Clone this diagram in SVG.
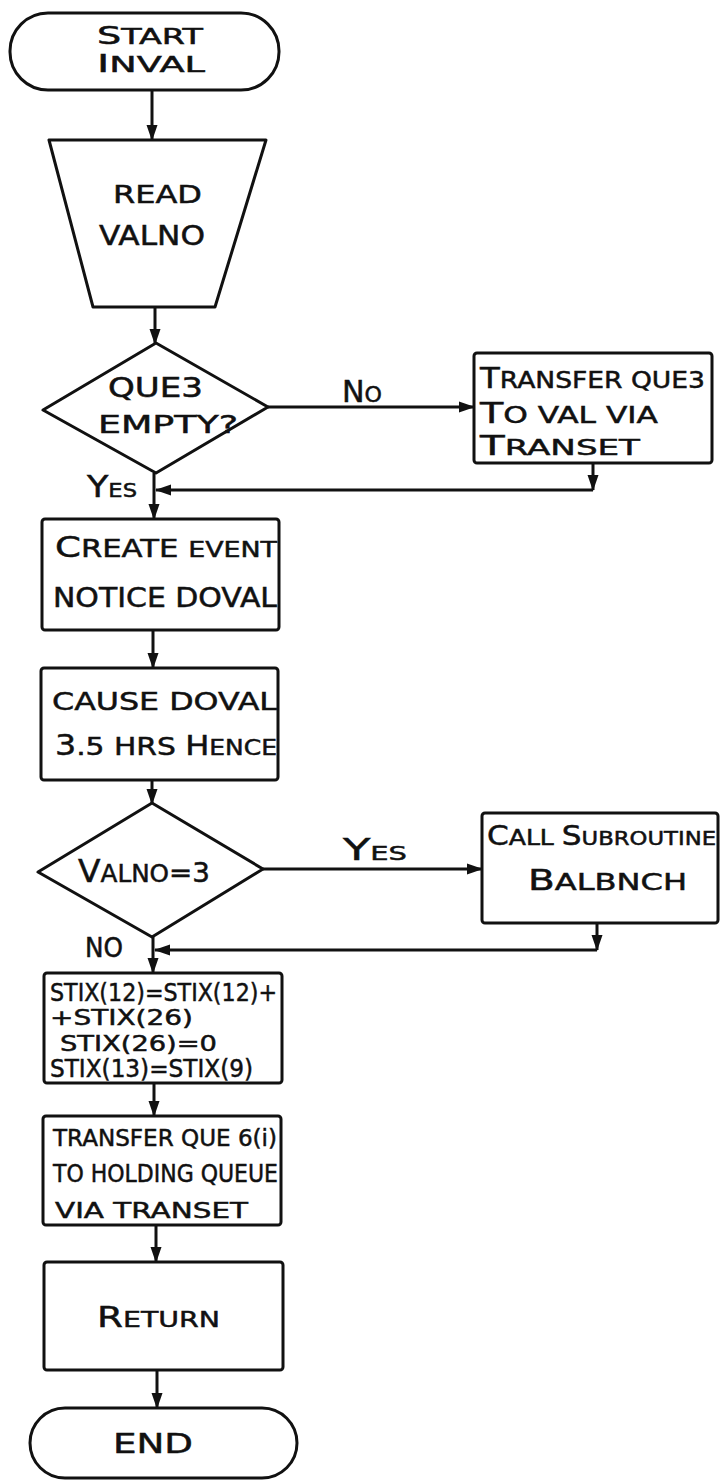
<svg xmlns="http://www.w3.org/2000/svg" width="724" height="1481" viewBox="0 0 724 1481">
  <style>
    .shape { fill: #ffffff; stroke: #111111; stroke-width: 3; stroke-linejoin: round; }
    .wire { fill: none; stroke: #111111; stroke-width: 3; }
    .lbl { font-family: "DejaVu Sans", "Liberation Sans", sans-serif; fill: #111111; stroke: #111111; stroke-width: 0.5; }
  </style>
  <defs>
    <marker id="ah" viewBox="0 0 16 12" refX="15" refY="6" markerWidth="16" markerHeight="12" markerUnits="userSpaceOnUse" orient="auto">
      <path d="M0,0.5 L16,6 L0,11.5 Z" fill="#111111"/>
    </marker>
  </defs>
  <rect width="724" height="1481" fill="#ffffff"/>

  <!-- flow connectors -->
  <g id="connectors">
    <path class="wire" d="M152,90 V140" marker-end="url(#ah)"/>
    <path class="wire" d="M155,307 V344" marker-end="url(#ah)"/>
    <path class="wire" d="M268,407 H474" marker-end="url(#ah)"/>
    <path class="wire" d="M593,463 V490" marker-end="url(#ah)"/>
    <path class="wire" d="M593,490 H156" marker-end="url(#ah)"/>
    <path class="wire" d="M154,473 V519" marker-end="url(#ah)"/>
    <path class="wire" d="M153,630 V668" marker-end="url(#ah)"/>
    <path class="wire" d="M152,780 V804" marker-end="url(#ah)"/>
    <path class="wire" d="M263,869 H482" marker-end="url(#ah)"/>
    <path class="wire" d="M597,923 V950" marker-end="url(#ah)"/>
    <path class="wire" d="M597,950 H155" marker-end="url(#ah)"/>
    <path class="wire" d="M153,937 V973" marker-end="url(#ah)"/>
    <path class="wire" d="M154,1083 V1116" marker-end="url(#ah)"/>
    <path class="wire" d="M156,1225 V1262" marker-end="url(#ah)"/>
    <path class="wire" d="M157,1370 V1408" marker-end="url(#ah)"/>
    <text class="lbl" x="342" y="402" textLength="40" lengthAdjust="spacingAndGlyphs"><tspan font-size="30">N</tspan><tspan font-size="22">O</tspan></text>
    <text class="lbl" x="87" y="497" textLength="50" lengthAdjust="spacingAndGlyphs"><tspan font-size="31">Y</tspan><tspan font-size="20">ES</tspan></text>
    <text class="lbl" x="343" y="860" textLength="64" lengthAdjust="spacingAndGlyphs"><tspan font-size="31">Y</tspan><tspan font-size="20">ES</tspan></text>
    <text class="lbl" x="85" y="957" font-size="26" textLength="38" lengthAdjust="spacingAndGlyphs">NO</text>
  </g>

  <g id="start">
    <rect class="shape" x="10" y="13" width="269" height="77" rx="38" ry="38"/>
    <text class="lbl" x="97" y="44" textLength="106" lengthAdjust="spacingAndGlyphs"><tspan font-size="24">S</tspan><tspan font-size="21">TART</tspan></text>
    <text class="lbl" x="97" y="72" textLength="108" lengthAdjust="spacingAndGlyphs"><tspan font-size="25">I</tspan><tspan font-size="22">NVAL</tspan></text>
  </g>

  <g id="read-valno">
    <path class="shape" d="M49,140 L266,140 L215,307 L93,307 Z"/>
    <text class="lbl" x="113" y="203" font-size="25" textLength="89" lengthAdjust="spacingAndGlyphs">READ</text>
    <text class="lbl" x="99" y="245" font-size="27" textLength="106" lengthAdjust="spacingAndGlyphs">VALNO</text>
  </g>

  <g id="que3-empty">
    <path class="shape" d="M156,343 L268,407 L156,473 L43,410 Z"/>
    <text class="lbl" x="108" y="397" font-size="26" textLength="95" lengthAdjust="spacingAndGlyphs">QUE3</text>
    <text class="lbl" x="98" y="433" font-size="25" textLength="140" lengthAdjust="spacingAndGlyphs">EMPTY?</text>
  </g>

  <g id="transfer-que3">
    <rect class="shape" x="474" y="353" width="238" height="110" rx="3"/>
    <text class="lbl" x="480" y="388" textLength="225" lengthAdjust="spacingAndGlyphs"><tspan font-size="28">T</tspan><tspan font-size="23">RANSFER QUE3</tspan></text>
    <text class="lbl" x="480" y="423" textLength="178" lengthAdjust="spacingAndGlyphs"><tspan font-size="28">T</tspan><tspan font-size="23">O VAL VIA</tspan></text>
    <text class="lbl" x="480" y="455" textLength="160" lengthAdjust="spacingAndGlyphs"><tspan font-size="26">T</tspan><tspan font-size="22">RANSET</tspan></text>
  </g>

  <g id="create-event">
    <rect class="shape" x="42" y="519" width="237" height="111" rx="3"/>
    <text class="lbl" x="55" y="557" textLength="222" lengthAdjust="spacingAndGlyphs"><tspan font-size="29">C</tspan><tspan font-size="24">REATE </tspan><tspan font-size="21">EVENT</tspan></text>
    <text class="lbl" x="53" y="607" font-size="26" textLength="224" lengthAdjust="spacingAndGlyphs">NOTICE DOVAL</text>
  </g>

  <g id="cause-doval">
    <rect class="shape" x="41" y="668" width="237" height="112" rx="3"/>
    <text class="lbl" x="52" y="710" font-size="25" textLength="225" lengthAdjust="spacingAndGlyphs">CAUSE DOVAL</text>
    <text class="lbl" x="55" y="755" textLength="222" lengthAdjust="spacingAndGlyphs"><tspan font-size="28">3</tspan><tspan font-size="25">.5 HRS </tspan><tspan font-size="27">H</tspan><tspan font-size="21">ENCE</tspan></text>
  </g>

  <g id="valno-3">
    <path class="shape" d="M152,803 L263,869 L152,937 L38,872 Z"/>
    <text class="lbl" x="78" y="882" textLength="132" lengthAdjust="spacingAndGlyphs"><tspan font-size="32">V</tspan><tspan font-size="24">ALNO</tspan><tspan font-size="27">=3</tspan></text>
  </g>

  <g id="call-balbnch">
    <rect class="shape" x="482" y="813" width="236" height="110" rx="3"/>
    <text class="lbl" x="487" y="845" textLength="229" lengthAdjust="spacingAndGlyphs"><tspan font-size="26">C</tspan><tspan font-size="21">ALL </tspan><tspan font-size="26">S</tspan><tspan font-size="19">UBROUTINE</tspan></text>
    <text class="lbl" x="528" y="890" textLength="159" lengthAdjust="spacingAndGlyphs"><tspan font-size="28">B</tspan><tspan font-size="23">ALBNCH</tspan></text>
  </g>

  <g id="stix-update">
    <rect class="shape" x="44" y="973" width="238" height="110" rx="3"/>
    <text class="lbl" x="50" y="1001" font-size="25" textLength="227" lengthAdjust="spacingAndGlyphs">STIX(12)=STIX(12)+</text>
    <text class="lbl" x="50" y="1025" font-size="22" textLength="143" lengthAdjust="spacingAndGlyphs">+STIX(26)</text>
    <text class="lbl" x="60" y="1051" font-size="21" textLength="157" lengthAdjust="spacingAndGlyphs">STIX(26)=0</text>
    <text class="lbl" x="50" y="1077" font-size="24" textLength="203" lengthAdjust="spacingAndGlyphs">STIX(13)=STIX(9)</text>
  </g>

  <g id="transfer-que6">
    <rect class="shape" x="43" y="1116" width="238" height="109" rx="3"/>
    <text class="lbl" x="53" y="1146" font-size="23" textLength="224" lengthAdjust="spacingAndGlyphs">TRANSFER QUE 6(i)</text>
    <text class="lbl" x="53" y="1182" font-size="24" textLength="225" lengthAdjust="spacingAndGlyphs">TO HOLDING QUEUE</text>
    <text class="lbl" x="55" y="1218" font-size="22" textLength="193" lengthAdjust="spacingAndGlyphs">VIA TRANSET</text>
  </g>

  <g id="return">
    <rect class="shape" x="44" y="1262" width="239" height="108" rx="3"/>
    <text class="lbl" x="97" y="1327" textLength="123" lengthAdjust="spacingAndGlyphs"><tspan font-size="29">R</tspan><tspan font-size="22">ETURN</tspan></text>
  </g>

  <g id="end">
    <rect class="shape" x="30" y="1408" width="267" height="70" rx="35" ry="35"/>
    <text class="lbl" x="113" y="1453" font-size="27" textLength="80" lengthAdjust="spacingAndGlyphs">END</text>
  </g>
</svg>
